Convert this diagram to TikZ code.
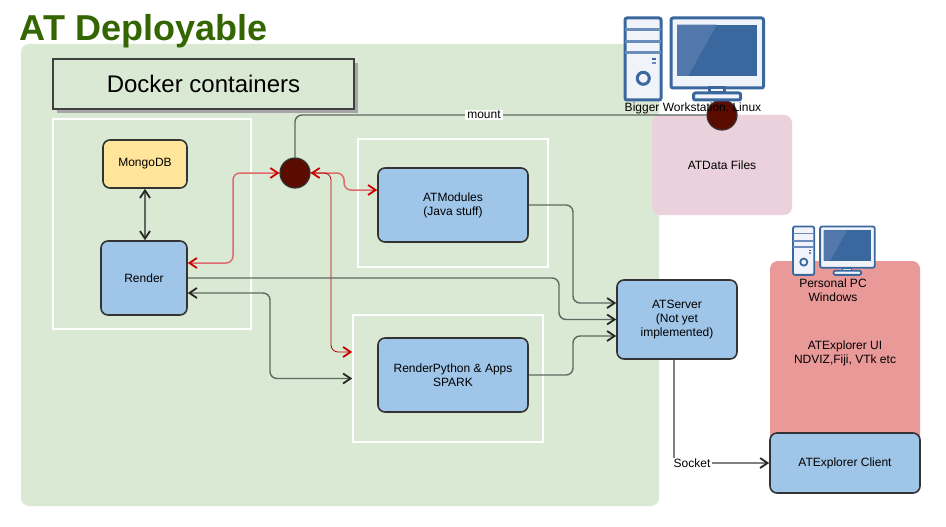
\documentclass[tikz,border=0pt]{standalone}
\usepackage{fontspec}
\setmainfont{Liberation Sans}
\usetikzlibrary{arrows.meta,shadows}
\definecolor{panelgreen}{HTML}{D9E9D3}
\definecolor{titlegreen}{HTML}{336600}
\definecolor{boxblue}{HTML}{9FC5E8}
\definecolor{boxyellow}{HTML}{FFE599}
\definecolor{filepink}{HTML}{EAD1DC}
\definecolor{clientred}{HTML}{EA9999}
\definecolor{hubred}{HTML}{5A0C00}
\definecolor{edgedark}{HTML}{333333}
\definecolor{wiregrey}{HTML}{5F695F}
\definecolor{wirered}{HTML}{DD6A6F}
\definecolor{tipred}{HTML}{CC0000}
\definecolor{iconblue}{HTML}{3B679F}
\definecolor{iconlight}{HTML}{6B8DBB}
\definecolor{iconglare}{HTML}{5278AB}
\definecolor{iconpale}{HTML}{F0F3F9}
\tikzset{
  label12/.style={font=\fontsize{12}{14}\selectfont,align=center,inner sep=0pt},
  service/.style={label12,draw=edgedark,line width=1.6pt,rounded corners=7pt,fill=boxblue},
  area/.style={rounded corners=8pt,inner sep=0pt},
  container/.style={draw=white,line width=1.7pt,inner sep=0pt},
  hub/.style={circle,draw=edgedark,line width=1.2pt,fill=hubred,minimum size=30pt,inner sep=0pt},
  wire/.style={draw=wiregrey,line width=1.4pt,rounded corners=7pt},
  darktip/.tip={Straight Barb[length=7.5pt,width=10pt,color=black!85,line width=1.8pt]},
  redtip/.tip={Straight Barb[length=7.5pt,width=10pt,color=tipred,line width=1.8pt]},
  redwire/.style={draw=wirered,line width=1.5pt,rounded corners=7pt},
  pcicon/.pic={
    \draw[draw=iconblue,fill=iconpale,rounded corners=2pt] (0,0) rectangle (36,82);
    \draw[draw=iconlight] (0,12) -- (36,12) (0,24) -- (36,24);
    \draw[draw=iconlight] (0,35) -- (36,35);
    \fill[iconblue] (27,40) rectangle (31,42);
    \fill[iconlight] (27,44) rectangle (31,46);
    \draw[draw=iconblue,fill=iconpale] (18.3,60.3) circle (6);
    \draw[draw=iconblue,fill=iconpale,rounded corners=2pt] (46,0) rectangle (138.5,70);
    \fill[iconblue] (52,6.7) rectangle (132,58);
    \fill[iconglare] (52,6.7) -- (91.7,6.7) -- (63.3,58) -- (52,58) -- cycle;
    \draw[draw=iconblue,fill=iconpale] (84,70) rectangle (99,75);
    \draw[draw=iconblue,fill=iconpale,rounded corners=2pt] (68.5,75) rectangle (115.7,82);
  }
}
\begin{document}
\begin{tikzpicture}[x=1pt,y=-1pt]
  \useasboundingbox (0,0) rectangle (946,527);
  % backgrounds
  \node[area,fill=panelgreen,minimum width=638pt,minimum height=462pt] (Panel) at (340,275) {};
  \node[font=\fontsize{36}{40}\selectfont\bfseries,text=titlegreen,inner sep=0pt] (Title) at (143.5,31.5) {AT Deployable};
  \node[draw=black!75,line width=1.1pt,fill=panelgreen,minimum width=301pt,minimum height=50pt,inner sep=0pt,
        font=\fontsize{24}{28}\selectfont,
        drop shadow={shadow xshift=4pt,shadow yshift=-4pt,fill=black!35,opacity=1}] (Docker) at (203.5,84) {Docker containers};
  \node[area,fill=filepink,minimum width=140pt,minimum height=100pt,label12] (ATData) at (722,165) {ATData Files};
  \node[area,fill=clientred,minimum width=150pt,minimum height=200pt] (PCArea) at (845,361) {};
  % containers
  \node[container,minimum width=198pt,minimum height=210pt] (RenderBox) at (152,224) {};
  \node[container,minimum width=190pt,minimum height=128pt] (ModulesBox) at (453,203) {};
  \node[container,minimum width=190pt,minimum height=127pt] (PythonBox) at (448,378.5) {};
  % services
  \node[service,fill=boxyellow,minimum width=84pt,minimum height=48pt] (MongoDB) at (145,164) {MongoDB};
  \node[service,minimum width=86pt,minimum height=74pt] (Render) at (144,278) {Render};
  \node[service,minimum width=150pt,minimum height=74pt] (ATModules) at (453,205) {ATModules\\(Java stuff)};
  \node[service,minimum width=150pt,minimum height=74pt] (RenderPython) at (453,375) {RenderPython \& Apps\\SPARK};
  \node[service,minimum width=120pt,minimum height=79pt] (ATServer) at (677,319.5) {ATServer\\(Not yet\\implemented)};
  \node[service,minimum width=150pt,minimum height=60pt] (ATClient) at (845,463) {ATExplorer Client};
  % hubs
  \node[hub] (Hub) at (295,173) {};
  \node[hub] (Host) at (722,115) {};
  % connectors
  \draw[wire] (Hub.north) |- (Host.west);
  \draw[wire,darktip-darktip] (MongoDB.south) -- (Render.north -| MongoDB.south);
  \draw[redwire,redtip-redtip] ([yshift=15pt]Render.east) -- (233,263) |- (Hub.west);
  \draw[redwire,redtip-redtip] (Hub.east) -- (344,173) |- ([yshift=15pt]ATModules.west);
  \draw[draw=tipred!85!black,line width=0.8pt,rounded corners=7pt,-redtip] (Hub.east) -- (331,173) |- ([yshift=26.5pt]PythonBox.west);
  \draw[wire,darktip-darktip] ([yshift=-15pt]Render.east) -- (270,293) |- (PythonBox.west);
  \draw[wire,-darktip] (Render.east) -- (559,278) |- (ATServer.west);
  \draw[wire,-darktip] (ATModules.east) -- (573,205) |- ([yshift=16.5pt]ATServer.west);
  \draw[wire,-darktip] (RenderPython.east) -- (573,375) |- ([yshift=-16.5pt]ATServer.west);
  \draw[draw=black!50,line width=1.6pt,rounded corners=4pt,-darktip] ([xshift=-3pt]ATServer.south) |- (ATClient.west);
  \node[label12,fill=white,inner xsep=2pt,inner ysep=1pt] (Mount) at (484,115) {mount};
  \node[label12,fill=white,inner xsep=2pt,inner ysep=1pt] (Socket) at (692,463) {Socket};
  % computers
  \pic[line width=3pt] at (625,18) {pcicon};
  \pic[scale=0.59,line width=1.8pt] at (793,226.5) {pcicon};
  \node[label12] (Bigger) at (693,108) {Bigger Workstation, Linux};
  \node[label12] (Personal) at (833,290) {Personal PC\\Windows};
  \node[label12] (Explorer) at (845,353) {ATExplorer UI\\NDVIZ,Fiji, VTk etc};
\end{tikzpicture}
\end{document}
